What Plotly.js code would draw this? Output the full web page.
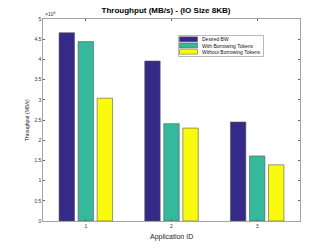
<!DOCTYPE html>
<html><head><meta charset="utf-8">
<script src="https://cdn.plot.ly/plotly-3.0.1.min.js"></script>
<style>html,body{margin:0;padding:0;background:#fff}#chart{width:332px;height:249px}</style>
</head><body><div id="chart"></div>
<script>
var appIds = [1, 2, 3];
var desiredBW = [46600, 39600, 24500];
var withBorrowing = [44400, 24100, 16100];
var withoutBorrowing = [30400, 23000, 13900];
var seriesNames = ['Desired BW', 'With Borrowing Tokens', 'Without Borrowing Tokens'];
var seriesColors = ['#352A87', '#35B99C', '#F9FA0E'];
var yTickVals = [0, 5000, 10000, 15000, 20000, 25000, 30000, 35000, 40000, 45000, 50000];
var yTickText = ['0', '0.5', '1', '1.5', '2', '2.5', '3', '3.5', '4', '4.5', '5'];

var W = 332, H = 249, mL = 43, mR = 32, mT = 19, mB = 28;
var pw = W - mL - mR, ph = H - mT - mB;
function px(x){ return (x - mL) / pw; }
function py(y){ return (H - mB - y) / ph; }

var series = [desiredBW, withBorrowing, withoutBorrowing];
var traces = series.map(function(v, i){
  return {type:'bar', x:appIds, y:v, name:seriesNames[i],
    marker:{color:seriesColors[i], line:{color:'#555', width:0.6}}};
});
var fontFam = 'Liberation Sans, Arial, sans-serif';

// custom compact legend (MATLAB-style)
var shapes = [{type:'rect', xref:'paper', yref:'paper', x0:px(178.5), x1:px(263.5), y0:py(56.5), y1:py(35.5),
  fillcolor:'#fff', line:{color:'#888', width:0.6}}];
var annotations = [];
seriesNames.forEach(function(n, i){
  var top = 36.8 + i * 6.2;
  shapes.push({type:'rect', xref:'paper', yref:'paper', x0:px(179.5), x1:px(197.5), y0:py(top + 5), y1:py(top),
    fillcolor:seriesColors[i], line:{color:'#555', width:0.5}});
  annotations.push({xref:'paper', yref:'paper', x:px(199.5), y:py(top + 2.5), xanchor:'left', yanchor:'middle',
    showarrow:false, text:n, font:{family:fontFam, size:5, color:'#111'}});
});
annotations.push({xref:'paper', yref:'paper', x:0, y:1, xanchor:'left', yanchor:'bottom', showarrow:false,
  text:'×10<sup>4</sup>', font:{family:fontFam, size:5, color:'#333'}});
annotations.push({xref:'paper', yref:'paper', x:px(27), y:0.5, xanchor:'center', yanchor:'middle', textangle:-90,
  showarrow:false, text:'Throughput (MB/s)', font:{family:fontFam, size:5, color:'#222'}});
annotations.push({xref:'paper', yref:'paper', x:0.5, y:py(237), xanchor:'center', yanchor:'middle',
  showarrow:false, text:'Application ID', font:{family:fontFam, size:7, color:'#222'}});

var layout = {
  width:W, height:H,
  margin:{l:mL, r:mR, t:mT, b:mB},
  paper_bgcolor:'#fff', plot_bgcolor:'#fff',
  barmode:'group', bargap:0.333, bargroupgap:0.19,
  showlegend:false,
  title:{text:'<b>Throughput (MB/s) - (IO Size 8KB)</b>', font:{family:fontFam, size:8, color:'#000'}, x:0.5, xanchor:'center', y:0.958, yanchor:'middle'},
  xaxis:{range:[0.5,3.5], tickvals:appIds, ticktext:appIds.map(String), ticks:'inside', ticklen:2, tickcolor:'#666',
    showline:true, linecolor:'#666', linewidth:0.6, mirror:'ticks', showgrid:false, zeroline:false,
    tickfont:{family:fontFam, size:5, color:'#333'}},
  yaxis:{range:[0,50000], tickvals:yTickVals, ticktext:yTickText, ticks:'inside', ticklen:2, tickcolor:'#666',
    showline:true, linecolor:'#666', linewidth:0.6, mirror:'ticks', showgrid:false, zeroline:false,
    tickfont:{family:fontFam, size:5, color:'#333'}},
  shapes:shapes,
  annotations:annotations
};
Plotly.newPlot('chart', traces, layout, {displayModeBar:false, staticPlot:true});
</script></body></html>
